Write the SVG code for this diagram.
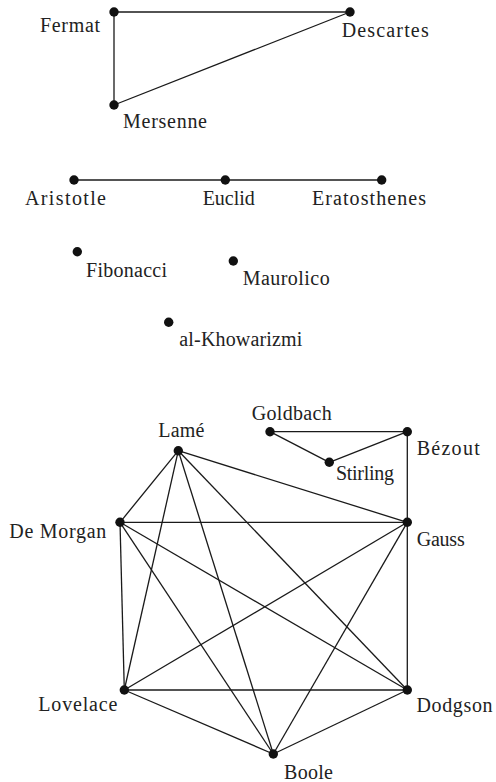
<svg xmlns="http://www.w3.org/2000/svg" width="496" height="782" viewBox="0 0 496 782">
<style>
.e{stroke:#1a1a1a;stroke-width:1.3;fill:none}
.d{fill:#111}
.t{font-family:'Liberation Serif','Times New Roman',serif;font-size:20px;fill:#222}
</style>
<rect width="496" height="782" fill="#fff"/>
<g id="connectors">
<line class="e" x1="114" y1="12" x2="350" y2="12"/>
<line class="e" x1="114" y1="12" x2="114" y2="105"/>
<line class="e" x1="114" y1="105" x2="350" y2="12"/>
<line class="e" x1="74" y1="180" x2="225.3" y2="180"/>
<line class="e" x1="225.3" y1="180" x2="381.7" y2="180"/>
<line class="e" x1="270" y1="431.7" x2="407.3" y2="431.7"/>
<line class="e" x1="270" y1="431.7" x2="329.3" y2="462.3"/>
<line class="e" x1="329.3" y1="462.3" x2="407.3" y2="431.7"/>
<line class="e" x1="407.3" y1="431.7" x2="407.3" y2="522.3"/>
<line class="e" x1="178.3" y1="450.7" x2="120" y2="522.3"/>
<line class="e" x1="178.3" y1="450.7" x2="407.3" y2="522.3"/>
<line class="e" x1="178.3" y1="450.7" x2="124.3" y2="690"/>
<line class="e" x1="178.3" y1="450.7" x2="273.3" y2="754"/>
<line class="e" x1="178.3" y1="450.7" x2="407.3" y2="690"/>
<line class="e" x1="120" y1="522.3" x2="407.3" y2="522.3"/>
<line class="e" x1="120" y1="522.3" x2="124.3" y2="690"/>
<line class="e" x1="120" y1="522.3" x2="273.3" y2="754"/>
<line class="e" x1="120" y1="522.3" x2="407.3" y2="690"/>
<line class="e" x1="407.3" y1="522.3" x2="124.3" y2="690"/>
<line class="e" x1="407.3" y1="522.3" x2="273.3" y2="754"/>
<line class="e" x1="407.3" y1="522.3" x2="407.3" y2="690"/>
<line class="e" x1="124.3" y1="690" x2="407.3" y2="690"/>
<line class="e" x1="124.3" y1="690" x2="273.3" y2="754"/>
<line class="e" x1="273.3" y1="754" x2="407.3" y2="690"/>
</g>
<g id="fermat"><circle class="d" cx="114" cy="12" r="4.7"/><text class="t" x="40" y="32" textLength="60" lengthAdjust="spacing">Fermat</text></g>
<g id="descartes"><circle class="d" cx="350" cy="12" r="4.7"/><text class="t" x="341.7" y="37.3" textLength="87" lengthAdjust="spacing">Descartes</text></g>
<g id="mersenne"><circle class="d" cx="114" cy="105" r="4.7"/><text class="t" x="123" y="128" textLength="84" lengthAdjust="spacing">Mersenne</text></g>
<g id="aristotle"><circle class="d" cx="74" cy="180" r="4.7"/><text class="t" x="25" y="205" textLength="81" lengthAdjust="spacing">Aristotle</text></g>
<g id="euclid"><circle class="d" cx="225.3" cy="180" r="4.7"/><text class="t" x="202.7" y="205" textLength="52" lengthAdjust="spacing">Euclid</text></g>
<g id="eratosthenes"><circle class="d" cx="381.7" cy="180" r="4.7"/><text class="t" x="312" y="205" textLength="114" lengthAdjust="spacing">Eratosthenes</text></g>
<g id="fibonacci"><circle class="d" cx="77.3" cy="251.7" r="4.7"/><text class="t" x="86" y="276.7" textLength="81" lengthAdjust="spacing">Fibonacci</text></g>
<g id="maurolico"><circle class="d" cx="233.3" cy="261" r="4.7"/><text class="t" x="242.7" y="285" textLength="87" lengthAdjust="spacing">Maurolico</text></g>
<g id="al-khowarizmi"><circle class="d" cx="168.7" cy="322.3" r="4.7"/><text class="t" x="179.3" y="345.7" textLength="123" lengthAdjust="spacing">al-Khowarizmi</text></g>
<g id="goldbach"><circle class="d" cx="270" cy="431.7" r="4.7"/><text class="t" x="251.7" y="420" textLength="80" lengthAdjust="spacing">Goldbach</text></g>
<g id="bezout"><circle class="d" cx="407.3" cy="431.7" r="4.7"/><text class="t" x="416.7" y="455" textLength="63" lengthAdjust="spacing">Bézout</text></g>
<g id="stirling"><circle class="d" cx="329.3" cy="462.3" r="4.7"/><text class="t" x="336" y="480" textLength="58" lengthAdjust="spacing">Stirling</text></g>
<g id="lame"><circle class="d" cx="178.3" cy="450.7" r="4.7"/><text class="t" x="158.3" y="436.7" textLength="46" lengthAdjust="spacing">Lamé</text></g>
<g id="demorgan"><circle class="d" cx="120" cy="522.3" r="4.7"/><text class="t" x="9.3" y="538.3" textLength="97" lengthAdjust="spacing">De Morgan</text></g>
<g id="gauss"><circle class="d" cx="407.3" cy="522.3" r="4.7"/><text class="t" x="416.7" y="545.7" textLength="48" lengthAdjust="spacing">Gauss</text></g>
<g id="lovelace"><circle class="d" cx="124.3" cy="690" r="4.7"/><text class="t" x="38.3" y="710.7" textLength="79" lengthAdjust="spacing">Lovelace</text></g>
<g id="dodgson"><circle class="d" cx="407.3" cy="690" r="4.7"/><text class="t" x="416.5" y="712" textLength="76" lengthAdjust="spacing">Dodgson</text></g>
<g id="boole"><circle class="d" cx="273.3" cy="754" r="4.7"/><text class="t" x="284" y="779" textLength="49" lengthAdjust="spacing">Boole</text></g>
</svg>
